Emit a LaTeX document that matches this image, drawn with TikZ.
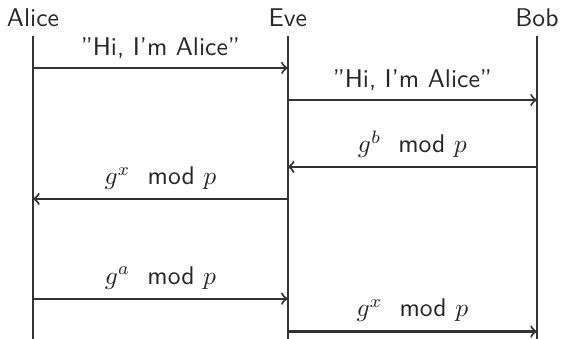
\documentclass[tikz,border=0pt]{standalone}
\usepackage{amsmath}
\SetSymbolFont{operators}{normal}{OT1}{cmss}{m}{n}
\renewcommand{\familydefault}{\sfdefault}
\usepackage{tikz}
\usetikzlibrary{calc}
\tikzset{
  lifeline/.style={line width=0.8pt,black!80},
  msg/.style={->,line width=0.8pt,black!80},
  party/.style={anchor=base,text=black!85},
  msgtext/.style={above,text=black!85}
}

\begin{document}
\begin{tikzpicture}
    \useasboundingbox (0,0) rectangle (7.70,-4.64);

    \node[party] (alice) at (0.453,-0.37) {Alice};
    \node[party] (eve) at (3.95,-0.37) {Eve};
    \node[party] (bob) at (7.37,-0.37) {Bob};

    % rows of the messages
    \foreach \n/\y in {1/0.933,2/1.372,3/2.29,4/2.73,5/4.10,6/4.55,7/4.70}
      \coordinate (r\n) at (0,-\y);

    \draw[lifeline] (alice.south) -- (alice |- r7);
    \draw[lifeline] (eve.south) -- (eve |- r7);
    \draw[lifeline] (bob.south) -- (bob |- r7);

    \draw[msg] (alice |- r1) -- node[msgtext] {''Hi, I'm Alice''} (eve |- r1);
    \draw[msg] (eve |- r2) -- node[msgtext] {''Hi, I'm Alice''} (bob |- r2);
    \draw[msg] (bob |- r3) -- node[msgtext] {$g^b \mod p$} (eve |- r3);
    \draw[msg] (eve |- r4) -- node[msgtext] {$g^x \mod p$} (alice |- r4);
    \draw[msg] (alice |- r5) -- node[msgtext] {$g^a \mod p$} (eve |- r5);
    \draw[msg] (eve |- r6) -- node[msgtext] {$g^x \mod p$} (bob |- r6);
  \end{tikzpicture}
\end{document}
